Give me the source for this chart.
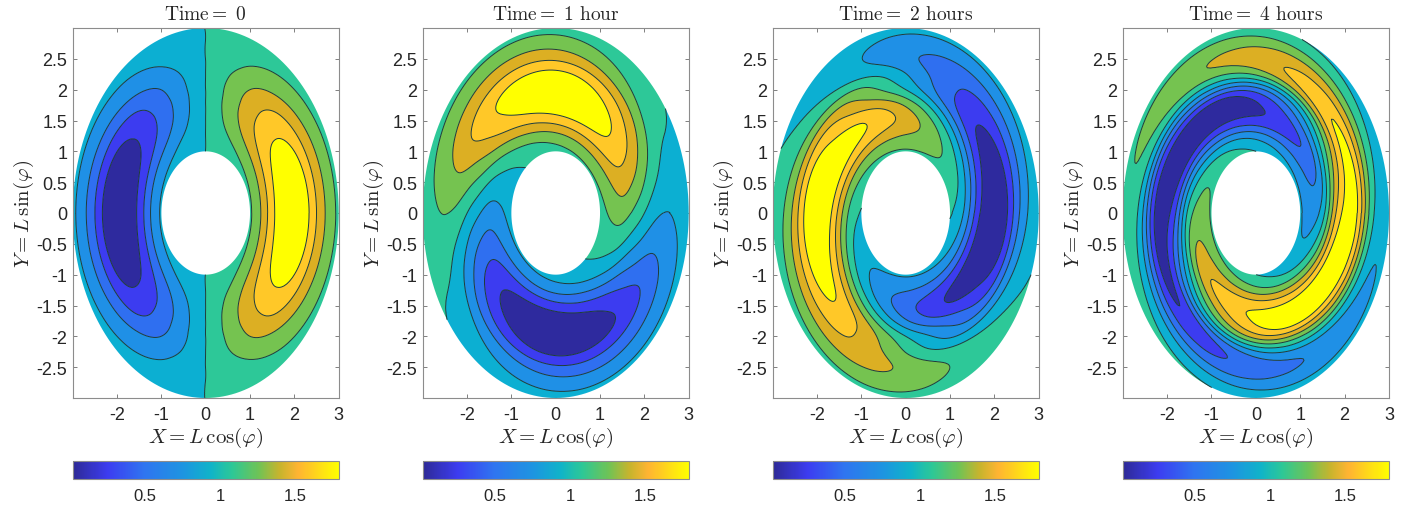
import numpy as np, matplotlib
matplotlib.use('Agg')
import matplotlib.pyplot as plt, seaborn as sns
from matplotlib.tri import Triangulation, UniformTriRefiner
from matplotlib.cm import ScalarMappable
from matplotlib.colors import Normalize, LinearSegmentedColormap
sns.set_theme(style='white')
plt.rcParams['font.family']=['Liberation Sans','DejaVu Sans']
plt.rcParams['mathtext.fontset']='cm'

titles=[r'$\mathrm{Time{=}\ 0}$',r'$\mathrm{Time{=}\ 1\ hour}$',r'$\mathrm{Time{=}\ 2\ hours}$',r'$\mathrm{Time{=}\ 4\ hours}$']
L_VALUES=[1,1.25,1.5,1.75,2,2.25,2.5,2.75,3]
# Each row is one L; columns are phi = 0, 15, ..., 345 degrees.
TIME_0=[
[1.055,1.05,1.035,1.011,.98,.944,.905,.866,.83,.799,.775,.76,.755,.76,.775,.799,.83,.866,.905,.944,.98,1.011,1.035,1.05],
[1.265,1.253,1.217,1.16,1.085,.998,.905,.812,.725,.65,.593,.557,.545,.557,.593,.65,.725,.812,.905,.998,1.085,1.16,1.217,1.253],
[1.555,1.533,1.468,1.365,1.23,1.073,.905,.737,.58,.445,.342,.277,.255,.277,.342,.445,.58,.737,.905,1.073,1.23,1.365,1.468,1.533],
[1.755,1.726,1.641,1.506,1.33,1.125,.905,.685,.48,.304,.169,.084,.055,.084,.169,.304,.48,.685,.905,1.125,1.33,1.506,1.641,1.726],
[1.79,1.76,1.671,1.531,1.348,1.134,.905,.676,.462,.279,.139,.05,.02,.05,.139,.279,.462,.676,.905,1.134,1.348,1.531,1.671,1.76],
[1.685,1.658,1.58,1.456,1.295,1.107,.905,.703,.515,.354,.23,.152,.125,.152,.23,.354,.515,.703,.905,1.107,1.295,1.456,1.58,1.658],
[1.435,1.417,1.364,1.28,1.17,1.042,.905,.768,.64,.53,.446,.393,.375,.393,.446,.53,.64,.768,.905,1.042,1.17,1.28,1.364,1.417],
[1.215,1.204,1.173,1.124,1.06,.985,.905,.825,.75,.686,.637,.606,.595,.606,.637,.686,.75,.825,.905,.985,1.06,1.124,1.173,1.204],
[1.035,1.031,1.018,.997,.97,.939,.905,.871,.84,.813,.792,.779,.775,.779,.792,.813,.84,.871,.905,.939,.97,.997,1.018,1.031]]
TIME_1=[
[1.016,1.038,1.051,1.055,1.048,1.031,1.006,.974,.937,.898,.86,.824,.794,.772,.759,.755,.762,.779,.804,.836,.873,.912,.95,.986],
[1.112,1.181,1.231,1.26,1.264,1.243,1.2,1.136,1.057,.968,.874,.782,.698,.629,.579,.55,.546,.567,.61,.674,.753,.842,.936,1.028],
[1.154,1.301,1.42,1.506,1.549,1.549,1.506,1.42,1.301,1.154,.99,.82,.656,.509,.39,.304,.261,.261,.304,.39,.509,.656,.82,.99],
[1.053,1.265,1.452,1.601,1.704,1.752,1.742,1.675,1.556,1.393,1.196,.979,.757,.545,.358,.209,.106,.058,.068,.135,.254,.417,.614,.831],
[.905,1.134,1.348,1.531,1.671,1.76,1.79,1.76,1.671,1.531,1.348,1.134,.905,.676,.462,.279,.139,.05,.02,.05,.139,.279,.462,.676],
[.769,.973,1.172,1.353,1.502,1.612,1.673,1.682,1.638,1.544,1.407,1.235,1.041,.837,.638,.457,.308,.198,.137,.128,.172,.266,.403,.575],
[.724,.859,.997,1.129,1.246,1.339,1.403,1.433,1.427,1.385,1.311,1.209,1.086,.951,.813,.681,.564,.471,.407,.377,.383,.425,.499,.601],
[.762,.838,.919,.998,1.071,1.133,1.18,1.208,1.215,1.201,1.166,1.115,1.048,.972,.891,.812,.739,.677,.63,.602,.595,.609,.644,.695],
[.83,.861,.894,.928,.96,.989,1.011,1.027,1.034,1.033,1.023,1.005,.98,.949,.916,.882,.85,.821,.799,.783,.776,.777,.787,.805]]
TIME_2=[
[.918,.956,.991,1.02,1.041,1.053,1.054,1.046,1.028,1.001,.968,.931,.892,.854,.819,.79,.769,.757,.756,.764,.782,.809,.842,.879],
[.782,.874,.968,1.057,1.136,1.2,1.243,1.264,1.26,1.231,1.181,1.112,1.028,.936,.842,.753,.674,.61,.567,.546,.55,.579,.629,.698],
[.445,.58,.737,.905,1.073,1.23,1.365,1.468,1.533,1.555,1.533,1.468,1.365,1.23,1.073,.905,.737,.58,.445,.342,.277,.255,.277,.342],
[.12,.231,.387,.579,.794,1.016,1.231,1.423,1.579,1.69,1.747,1.747,1.69,1.579,1.423,1.231,1.016,.794,.579,.387,.231,.12,.063,.063],
[.02,.05,.139,.279,.462,.676,.905,1.134,1.348,1.531,1.671,1.76,1.79,1.76,1.671,1.531,1.348,1.134,.905,.676,.462,.279,.139,.05],
[.144,.126,.161,.247,.378,.545,.737,.939,1.14,1.324,1.48,1.597,1.666,1.684,1.649,1.563,1.432,1.265,1.073,.871,.67,.486,.33,.213],
[.471,.407,.377,.383,.425,.499,.601,.724,.859,.997,1.129,1.246,1.339,1.403,1.433,1.427,1.385,1.311,1.209,1.086,.951,.813,.681,.564],
[.727,.668,.624,.6,.596,.614,.651,.706,.774,.851,.932,1.011,1.083,1.142,1.186,1.21,1.214,1.196,1.159,1.104,1.036,.959,.878,.799],
[.861,.83,.805,.787,.777,.776,.783,.799,.821,.85,.882,.916,.949,.98,1.005,1.023,1.033,1.034,1.027,1.011,.989,.96,.928,.894]]
TIME_4=[
[.755,.76,.775,.799,.83,.866,.905,.944,.98,1.011,1.035,1.05,1.055,1.05,1.035,1.011,.98,.944,.905,.866,.83,.799,.775,.76],
[.65,.593,.557,.545,.557,.593,.65,.725,.812,.905,.998,1.085,1.16,1.217,1.253,1.265,1.253,1.217,1.16,1.085,.998,.905,.812,.725],
[.82,.656,.509,.39,.304,.261,.261,.304,.39,.509,.656,.82,.99,1.154,1.301,1.42,1.506,1.549,1.549,1.506,1.42,1.301,1.154,.99],
[1.33,1.125,.905,.685,.48,.304,.169,.084,.055,.084,.169,.304,.48,.685,.905,1.125,1.33,1.506,1.641,1.726,1.755,1.726,1.641,1.506],
[1.671,1.531,1.348,1.134,.905,.676,.462,.279,.139,.05,.02,.05,.139,.279,.462,.676,.905,1.134,1.348,1.531,1.671,1.76,1.79,1.76],
[1.658,1.685,1.658,1.58,1.456,1.295,1.107,.905,.703,.515,.354,.23,.152,.125,.152,.23,.354,.515,.703,.905,1.107,1.295,1.456,1.58],
[1.17,1.28,1.364,1.417,1.435,1.417,1.364,1.28,1.17,1.042,.905,.768,.64,.53,.446,.393,.375,.393,.446,.53,.64,.768,.905,1.042],
[.825,.905,.985,1.06,1.124,1.173,1.204,1.215,1.204,1.173,1.124,1.06,.985,.905,.825,.75,.686,.637,.606,.595,.606,.637,.686,.75],
[.783,.799,.821,.85,.882,.916,.949,.98,1.005,1.023,1.033,1.034,1.027,1.011,.989,.96,.928,.894,.861,.83,.805,.787,.777,.776]]
PANELS=[TIME_0,TIME_1,TIME_2,TIME_4]
LEVELS=[.197,.374,.551,.728,.904,1.081,1.258,1.435,1.612]
BAND=['#2e2a9e','#3c3cf0','#2f6ff0','#1f90e6','#0cafd2','#2dc898','#75c350','#dcaf23','#ffc828','#ffff00']
ANCH=[(0,'#2e2a96'),(.13,'#3c3cf0'),(.27,'#2f75f0'),(.42,'#1c96e0'),(.52,'#10b4c8'),(.6,'#2dc896'),(.7,'#70c355'),(.78,'#c8b42d'),(.85,'#ffb432'),(1,'#ffff00')]
cmap=LinearSegmentedColormap.from_list('p',ANCH)
xticks=[-2,-1,0,1,2,3]
yticks=[-2.5,-2,-1.5,-1,-.5,0,.5,1,1.5,2,2.5]

phi=np.arange(-30,391,15.)
L=np.array(L_VALUES)
fig=plt.figure(figsize=(14.22,5.10),dpi=100)
W,H=1422,510
for i,(x0,x1) in enumerate([(72.7,338.7),(422.7,688.7),(772.7,1038.7),(1122.7,1389)]):
    ax=fig.add_axes([x0/W,1-399/H,(x1-x0)/W,370/H])
    T=np.array(PANELS[i])
    Z=np.c_[T[:,-2:],T,T[:,:3]]      # wrap round the seam at phi = 0
    P,R=np.meshgrid(phi,L)
    nr,nc=P.shape
    idx=np.arange(nr*nc).reshape(nr,nc)
    a,b,c,d=idx[:-1,:-1].ravel(),idx[:-1,1:].ravel(),idx[1:,1:].ravel(),idx[1:,:-1].ravel()
    tris=np.r_[np.c_[a,b,c],np.c_[a,c,d]]
    t=Triangulation(np.radians(P.ravel())*2,R.ravel(),tris)
    rt,rz=UniformTriRefiner(t).refine_field(Z.ravel(),subdiv=3)
    pr=rt.x/2; rr=rt.y
    tt=Triangulation(rr*np.cos(pr),rr*np.sin(pr),rt.triangles)
    cen=pr[rt.triangles].mean(1)
    tt.set_mask((cen<0)|(cen>2*np.pi))
    ax.tricontourf(tt,rz,levels=[-9]+LEVELS+[9],colors=BAND,antialiased=True)
    ax.tricontour(tt,rz,levels=LEVELS,colors='#1c3a3a',linewidths=.7)
    ax.set_xlim(-3,3);ax.set_ylim(-3,3)
    ax.set_xticks(xticks);ax.set_yticks(yticks)
    ax.set_yticklabels([f'{v:g}' for v in yticks])
    ax.set_xticklabels([f'{v:g}' for v in xticks])
    ax.tick_params(direction='in',length=3,width=.7,color='#808080',labelcolor='#262626',labelsize=13,top=True,right=True,bottom=True,left=True,pad=4)
    ax.tick_params(axis='x',pad=6)
    for s in ax.spines.values(): s.set_color('#8c8c8c');s.set_linewidth(.8);s.set_visible(True)
    ax.set_title(titles[i],fontsize=14,color='#262626',pad=6.5)
    ax.set_xlabel(r'$X = L\,\cos(\varphi)$',fontsize=15,color='#262626',labelpad=1)
    ax.set_ylabel(r'$Y = L\,\sin(\varphi)$',fontsize=15,color='#262626',labelpad=0)
    cax=fig.add_axes([x0/W,1-479.5/H,(x1-x0)/W,17.5/H])
    cb=fig.colorbar(ScalarMappable(Normalize(.02,1.79),cmap),cax=cax,orientation='horizontal',ticks=[.5,1,1.5])
    cb.ax.set_xticklabels(['0.5','1','1.5'])
    cb.ax.tick_params(length=0,labelsize=12,labelcolor='#262626',pad=7)
    cb.outline.set_edgecolor('#8c8c8c');cb.outline.set_linewidth(.8)
fig.savefig('out.png',dpi=100)
